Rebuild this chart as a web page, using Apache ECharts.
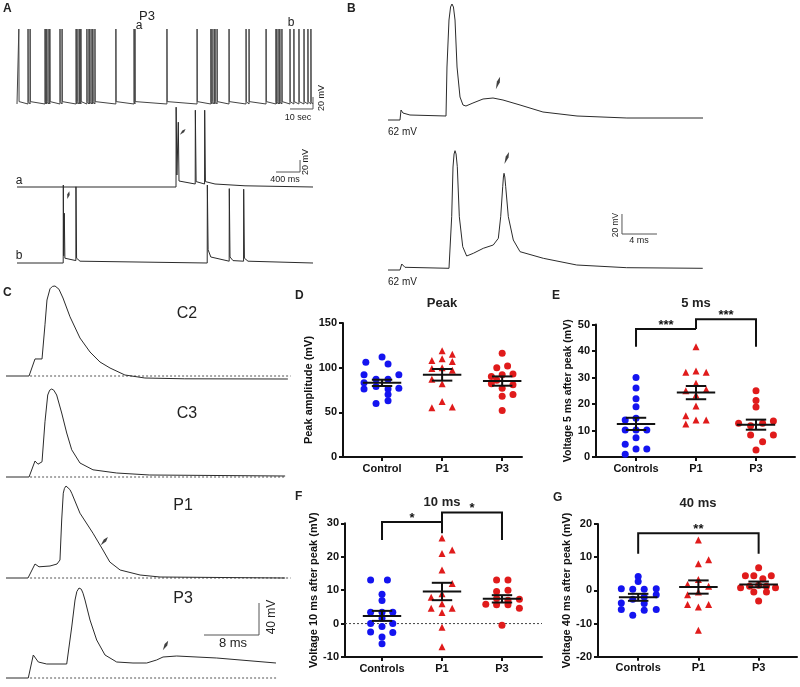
<!DOCTYPE html>
<html><head><meta charset="utf-8">
<script src="https://cdn.jsdelivr.net/npm/echarts@6/dist/echarts.min.js"></script>
<style>html,body{margin:0;padding:0;background:#fff}#c{width:800px;height:687px}</style>
</head><body><div id="c"></div>
<script>
// ---------------- DATA ----------------
// Panel A (top trace): spike times (s), spike peak (mV above rest)
const spikeTimesA = [0.8,4.8,5.7,12.2,12.6,13.0,13.9,14.3,18.7,19.6,25.7,26.1,27.0,27.4,27.8,30.4,31.3,31.7,32.6,33.0,33.9,43.0,50.9,51.3,65.2,78.3,84.3,84.8,85.7,86.1,87.0,92.2,99.6,100.9,108.3,112.6,113.0,113.9,114.3,115.2,118.7,120.4,122.6,124.8,126.5,127.8];
const spikePeakA = 125;
// Panel A expanded traces a, b : [ms, mV above rest]
const traceAa = [[0,0],[2650,0],[2652,133],[2665,20],[2688,108],[2700,10],[2720,8],[2970,5],[2972,128],[2985,9],[3000,8],[3126,5],[3128,128],[3140,9],[3160,8],[3300,5],[3800,2],[4933,0]];
const traceAb = [[0,0],[770,0],[772,130],[778,12],[788,83],[798,8],[830,5],[981,4],[983,127],[993,8],[1050,3],[3170,0],[3172,130],[3185,22],[3230,10],[3536,3],[3538,124],[3550,10],[3600,4],[3776,3],[3778,123],[3790,8],[3850,3],[4933,0]];
// Panel B traces [ms, mV above -62 mV]
const traceB1 = [[0,0],[1.37,0],[1.49,10],[1.71,7],[2.51,5],[6.63,4],[6.74,53],[6.97,100],[7.15,113],[7.31,116],[7.48,113],[7.66,100],[7.89,53],[8.23,23],[8.57,15],[8.91,14],[9.71,17],[10.86,21],[12.0,22],[13.14,20],[15.09,15],[17.71,8],[21.6,4],[27.3,2],[36,2]];
const traceB2 = [[0,0],[1.37,0],[1.57,6],[1.94,2.7],[6.97,1.7],[7.28,53.3],[7.43,103],[7.55,116],[7.66,119.3],[7.78,116],[7.92,103.3],[8.15,53.3],[8.54,23.3],[8.99,14],[9.75,16.7],[10.89,21.7],[12.03,25],[12.61,31.7],[12.88,53.3],[13.11,83.3],[13.19,93],[13.26,96.7],[13.35,93],[13.45,83.3],[13.75,53.3],[14.32,30],[15.09,18.3],[17.75,11.7],[21.57,5],[27.28,2.3],[35.97,1.7]];
// Panel C traces [ms, mV above rest]
const traceC2 = [[0,0],[3.35,0],[4.22,21.3],[5.24,21.3],[5.67,64],[5.96,95],[6.4,109],[6.75,112],[7.13,112.5],[7.4,111.5],[7.7,108.5],[8.29,97.5],[9.31,74],[10.76,47.5],[12.22,30],[13.67,17.5],[15.13,10],[17.3,1.25],[20.2,-2.5],[26,-3.5],[41,-3.75]];
const traceC3 = [[0,0],[3.35,0],[4.22,20],[4.65,16],[5.24,19],[5.67,69],[6.07,102.5],[6.35,108.5],[6.65,110],[6.95,108.5],[7.37,102.5],[8.1,80],[8.83,55],[9.56,34],[10.76,17.5],[12.65,9],[16.1,5],[20.9,2.5],[40.6,1.25]];
const traceP1 = [[0,0],[3.2,0],[4.22,17.5],[4.8,14],[6.4,15],[7.42,17.5],[7.85,22.5],[8.1,72.5],[8.33,106],[8.5,112],[8.73,115],[9.0,114],[9.3,110.5],[9.56,106],[10.76,81],[12.65,56],[14.1,35],[15.1,20],[16.6,10],[19.5,3.75],[22.4,1.25],[40.6,0]];
const traceP3 = [[0,0],[3.24,0],[3.97,28.75],[4.7,20],[5.92,17.5],[8.83,17.5],[9.56,63.75],[10.04,97.5],[10.3,108],[10.62,112.5],[10.95,111],[11.2,106],[11.49,97.5],[12.22,72.5],[13.19,47.5],[14.4,28.75],[16.1,20],[18.47,18.75],[20.47,18.75],[21.9,22.5],[22.84,26.25],[24.83,27.5],[30.65,25],[39.27,18.75]];

// Scatter panels
const catsD = ['Control','P1','P3'];
const catsEFG = ['Controls','P1','P3'];
// D: Peak amplitude (mV)
const peakControl  = [112,106,104,92,92,87,87,83,79,77,76,76,70,63,60];
const peakControlX = [0,-0.27,0.1,-0.3,0.28,-0.1,0.1,-0.3,-0.1,0.28,0.1,-0.3,0.1,0.1,-0.1];
const peakP1  = [119,115,110,108,107,100,99,97,87,82,62,56,55];
const peakP1X = [0,0.17,0,-0.17,0.17,0,-0.17,0.17,-0.17,0,0,0.17,-0.17];
const peakP3  = [116,102,100,93,92,90,86,82,81,77,70,68,52];
const peakP3X = [0,0.09,-0.09,0.18,0,-0.18,-0.09,-0.18,0.18,0,0.18,0,0];
const peakMean = [83,92,85], peakSem = [3.5,6.5,5.2];
// E: 5 ms after peak
const ms5Control  = [30,26,22,19,14.6,14,10.2,10.2,10.2,7.3,4.8,3,3,1];
const ms5ControlX = [0,0,0,0,0,-0.18,-0.18,0,0.18,0,-0.18,0,0.18,-0.18];
const ms5P1  = [41.6,32,32.5,32,27.8,25,25.5,23.4,19.2,15.6,12.5,14,14];
const ms5P1X = [0,-0.17,0,0.17,0,-0.17,0.17,0,0,-0.17,-0.17,0,0.17];
const ms5P3  = [25,21.3,18.9,12.7,11.8,12.7,13.6,8.3,8.3,5.8,2.6];
const ms5P3X = [0,0,0,-0.29,-0.09,0.11,0.29,-0.09,0.29,0.11,0];
const ms5Mean = [12.5,24.3,12.2], ms5Sem = [2.3,2.5,1.9];
const bracketsE = [[0,1,48.3,41.6,48.3,'***'],[1,2,52,48.3,41.6,'***']];
// F: 10 ms after peak
const ms10Control  = [13,13,8.8,6.9,3.4,3.4,3.4,1.6,0,0,-0.9,-2.5,-2.7,-4,-6];
const ms10ControlX = [-0.19,0.09,0,0,-0.19,0,0.18,0,-0.19,0.18,0,-0.19,0.18,0,0];
const ms10P1  = [25.6,22,21,16,12,8.9,7.9,5.9,4.6,4.6,3.3,-1.1,-6.9];
const ms10P1X = [0,0.17,0,0,0.17,0,-0.18,0,-0.18,0.17,0,0,0];
const ms10P3  = [13,13,10,9.6,7.5,7.3,7,5.8,5.6,5.6,4.6,-0.5];
const ms10P3X = [-0.09,0.1,0.1,-0.09,-0.09,0.29,0.1,-0.27,-0.09,0.1,0.29,0];
const ms10Mean = [2.3,9.6,7.4], ms10Sem = [1.5,2.6,1.1];
const bracketsF = [[0,1,30.4,25,30.4,'*'],[1,2,33.2,27,25,'*']];
// G: 40 ms after peak
const ms40Control  = [4.2,2.7,0.5,0.3,0.3,0.5,-1.3,-2,-2.7,-3.8,-4,-5.8,-5.8,-6,-7.5];
const ms40ControlX = [0,0,-0.28,-0.09,0.1,0.3,0.3,0.1,-0.09,-0.28,0.1,-0.28,0.3,0.1,-0.09];
const ms40P1  = [15.2,9.2,8,3.3,1.8,1.2,-0.5,-1.3,-4.3,-4.3,-5,-12];
const ms40P1X = [0,0.17,0,0,-0.18,0.17,0,-0.18,-0.18,0.17,0,0];
const ms40P3  = [6.8,4.4,4.4,4.4,3.5,0.8,1.2,1.5,1.2,0.8,-0.5,-0.5,-3.2];
const ms40P3X = [0,-0.22,-0.08,0.21,0.07,-0.3,-0.15,0,0.13,0.28,-0.08,0.13,0];
const ms40Mean = [-2.1,1.0,1.8], ms40Sem = [1.05,2.0,0.85];
const bracketsG = [[0,2,17.2,11,11,'**']];

// ---------------- BUILD ----------------
const FONT = "'Liberation Sans', Arial, Helvetica, sans-serif";
const INK = '#111';
const TRACE = '#2b2b2b';
const BLUE = '#1414f0', RED = '#e01b1b';
const grids = [], xAxes = [], yAxes = [], series = [];

function addGrid(rect, xa, ya) {
  const i = grids.length;
  grids.push({left: rect[0], top: rect[1], width: rect[2], height: rect[3], containLabel: false});
  xAxes.push(Object.assign({gridIndex: i}, xa));
  yAxes.push(Object.assign({gridIndex: i}, ya));
  return i;
}
const hid = (min, max) => ({type: 'value', min, max, show: false, splitLine: {show: false}});

function traceGrid(rect, xr, yr, data, color) {
  const g = addGrid(rect, hid(xr[0], xr[1]), hid(yr[0], yr[1]));
  series.push({type: 'line', xAxisIndex: g, yAxisIndex: g, data, showSymbol: false, symbol: 'none',
    silent: true, clip: false, lineStyle: {color: color || TRACE, width: 1}, z: 2});
  return g;
}
function dottedBase(g, x0, x1) {
  series.push({type: 'line', xAxisIndex: g, yAxisIndex: g, data: [[x0, 0], [x1, 0]], showSymbol: false,
    symbol: 'none', silent: true, lineStyle: {color: '#555', width: 1, type: [2, 2]}, z: 1});
}
function scaleBar(g, pts) {
  series.push({type: 'line', xAxisIndex: g, yAxisIndex: g, data: pts, showSymbol: false, symbol: 'none',
    silent: true, clip: false, lineStyle: {color: '#555', width: 1}, z: 2});
}
const ARROW = 'path://M1,0L2,5L1,12L0,5Z';
function arrow(g, pt, rot, size) {
  series.push({type: 'scatter', xAxisIndex: g, yAxisIndex: g, data: [pt], symbol: ARROW,
    symbolSize: size || [3, 11], symbolRotate: rot, itemStyle: {color: '#111'}, silent: true, z: 4, clip: false});
}

// Panel A top trace built from spike times
const traceAtop = [[0, 0]];
spikeTimesA.forEach(t => { traceAtop.push([t - 0.02, 0], [t, spikePeakA], [t + 0.1, 4]); });
traceAtop.push([128.7, 0]);
const gAtop = traceGrid([17, 26, 296, 84], [0, 128.7], [-10, 130], traceAtop, '#444');
scaleBar(gAtop, [[118.7, -8.3], [128.7, -8.3], [128.7, 11.7]]);
const gAa = traceGrid([17, 103, 296, 90], [0, 4933], [-10, 140], traceAa);
scaleBar(gAa, [[4317, 25], [4717, 25], [4717, 45]]);
arrow(gAa, [2762, 92], -45, [2.5, 8]);
const gAb = traceGrid([17, 179, 296, 90], [0, 4933], [-10, 140], traceAb);
arrow(gAb, [855, 113], -15, [2.5, 8]);

// Panel B
const gB1 = traceGrid([388, 0, 315, 130], [0, 36], [-10, 120], traceB1);
arrow(gB1, [12.57, 37], -19, [3, 13]);
const gB2 = traceGrid([388, 145, 315, 135], [0, 36], [-10, 125], traceB2);
arrow(gB2, [13.57, 112], -21, [3, 13]);
scaleBar(gB2, [[26.74, 56], [26.74, 36], [30.74, 36]]);

// Panel C
const cW = 288.75;
const gC2 = traceGrid([6, 280, cW, 104], [0, 42], [-10, 120], traceC2);
dottedBase(gC2, 3.5, 41.4);
const gC3 = traceGrid([6, 381, cW, 104], [0, 42], [-10, 120], traceC3);
dottedBase(gC3, 3.5, 40.6);
const gP1 = traceGrid([6, 482, cW, 104], [0, 42], [-10, 120], traceP1);
dottedBase(gP1, 3.5, 41.4);
arrow(gP1, [14.3, 46], -41, [3, 11]);
const gP3 = traceGrid([6, 582, cW, 104], [0, 42], [-10, 120], traceP3);
dottedBase(gP3, 3.5, 39.3);
arrow(gP3, [23.2, 40.6], -29, [3, 11]);
scaleBar(gP3, [[28.8, 53.75], [36.8, 53.75], [36.8, 93.75]]);

// Scatter panels
function scatterPanel(rect, xr, cats, yr, yint, yname, nameGap, nameSize, groups, means, sems, brackets, zeroLine) {
  const xa = {type: 'value', min: xr[0], max: xr[1],
    axisLine: {show: true, onZero: false, lineStyle: {color: INK, width: 2}},
    axisTick: {show: true, customValues: [0, 1, 2], length: 4, lineStyle: {color: INK, width: 2}},
    axisLabel: {show: true, customValues: [0, 1, 2], formatter: v => cats[Math.round(v)],
      fontWeight: 'bold', fontSize: 11, color: INK, fontFamily: FONT, margin: 6},
    splitLine: {show: false}};
  const ya = {type: 'value', min: yr[0], max: yr[1], interval: yint,
    name: yname, nameLocation: 'middle', nameGap, nameRotate: 90,
    nameTextStyle: {fontWeight: 'bold', fontSize: nameSize, color: INK, fontFamily: FONT},
    axisLine: {show: true, onZero: false, lineStyle: {color: INK, width: 2}},
    axisTick: {show: true, length: 4, lineStyle: {color: INK, width: 2}},
    axisLabel: {fontWeight: 'bold', fontSize: 11, color: INK, fontFamily: FONT, margin: 6},
    splitLine: {show: false}};
  const g = addGrid(rect, xa, ya);
  if (zeroLine) {
    series.push({type: 'line', xAxisIndex: g, yAxisIndex: g, data: [[xr[0], 0], [xr[1], 0]], showSymbol: false,
      symbol: 'none', silent: true, lineStyle: {color: '#444', width: 1, type: [2, 2]}, z: 1});
  }
  groups.forEach((gr, ci) => {
    series.push({type: 'scatter', xAxisIndex: g, yAxisIndex: g, symbol: gr.sym, symbolSize: gr.size,
      itemStyle: {color: gr.color, opacity: 1}, silent: true, z: 3, clip: false,
      data: gr.vals.map((v, i) => [ci + gr.jit[i], v])});
  });
  series.push({type: 'custom', xAxisIndex: g, yAxisIndex: g, z: 5, silent: true, clip: false,
    data: means.map((m, i) => [i, m, sems[i]]),
    renderItem(params, api) {
      const x = api.value(0), m = api.value(1), s = api.value(2);
      const c = (dx, v) => api.coord([x + dx, v]);
      const L = (a, b) => ({type: 'line', shape: {x1: a[0], y1: a[1], x2: b[0], y2: b[1]}, style: {stroke: INK, lineWidth: 2}});
      return {type: 'group', children: [
        L(c(-0.32, m), c(0.32, m)), L(c(0, m - s), c(0, m + s)),
        L(c(-0.17, m + s), c(0.17, m + s)), L(c(-0.17, m - s), c(0.17, m - s))]};
    }});
  if (brackets && brackets.length) {
    series.push({type: 'custom', xAxisIndex: g, yAxisIndex: g, z: 5, silent: true, clip: false,
      data: brackets.map(b => b.slice(0, 5)),
      renderItem(params, api) {
        const b = brackets[params.dataIndex];
        const p1 = api.coord([b[0], b[2]]), p2 = api.coord([b[1], b[2]]);
        const l1 = api.coord([b[0], b[3]]), r1 = api.coord([b[1], b[4]]);
        return {type: 'group', children: [
          {type: 'polyline', shape: {points: [l1, p1, p2, r1]}, style: {stroke: INK, lineWidth: 2, fill: null}},
          {type: 'text', x: (p1[0] + p2[0]) / 2, y: p1[1] - 4,
            style: {text: b[5], fill: INK, font: 'bold 13px ' + FONT, align: 'center', verticalAlign: 'middle'}}]};
      }});
  }
  return g;
}
const grp = (vals, jit, sym, color, size) => ({vals, jit, sym, color, size});

scatterPanel([343, 323, 179, 134], [-0.65, 2.33], catsD, [0, 150], 50, 'Peak amplitude (mV)', 28, 11,
  [grp(peakControl, peakControlX, 'circle', BLUE, 7), grp(peakP1, peakP1X, 'triangle', RED, 7), grp(peakP3, peakP3X, 'circle', RED, 7)],
  peakMean, peakSem, null, false);
scatterPanel([596, 324.5, 199, 132.5], [-0.667, 2.65], catsEFG, [0, 50], 10, 'Voltage 5 ms after peak (mV)', 22, 10.5,
  [grp(ms5Control, ms5ControlX, 'circle', BLUE, 7), grp(ms5P1, ms5P1X, 'triangle', RED, 7), grp(ms5P3, ms5P3X, 'circle', RED, 7)],
  ms5Mean, ms5Sem, bracketsE, false);
scatterPanel([345, 523.3, 197, 133.7], [-0.617, 2.667], catsEFG, [-10, 30], 10, 'Voltage 10 ms after peak (mV)', 26, 11,
  [grp(ms10Control, ms10ControlX, 'circle', BLUE, 7), grp(ms10P1, ms10P1X, 'triangle', RED, 7), grp(ms10P3, ms10P3X, 'circle', RED, 7)],
  ms10Mean, ms10Sem, bracketsF, true);
scatterPanel([598, 524, 199, 132.7], [-0.667, 2.637], catsEFG, [-20, 20], 10, 'Voltage 40 ms after peak (mV)', 23, 11,
  [grp(ms40Control, ms40ControlX, 'circle', BLUE, 7), grp(ms40P1, ms40P1X, 'triangle', RED, 7), grp(ms40P3, ms40P3X, 'circle', RED, 7)],
  ms40Mean, ms40Sem, bracketsG, false);

// ---------------- TEXT ----------------
const T = (x, y, text, size, opt) => Object.assign({type: 'text', x, y, silent: true,
  style: {text, fill: '#222', font: (opt && opt.bold ? 'bold ' : '') + size + 'px ' + FONT,
    align: (opt && opt.align) || 'center', verticalAlign: (opt && opt.va) || 'middle'}},
  opt && opt.rot ? {rotation: opt.rot} : {});
const L = (x, y, t) => T(x, y, t, 12, {bold: true, align: 'left', va: 'top'});
const R90 = Math.PI / 2;
const texts = [
  L(3, 3, 'A'), L(347, 3, 'B'), L(3, 287, 'C'), L(295, 290, 'D'), L(552, 290, 'E'), L(295, 491, 'F'), L(553, 492, 'G'),
  T(147, 16, 'P3', 13), T(139, 26, 'a', 12), T(291, 23, 'b', 12),
  T(322, 98, '20 mV', 9, {rot: R90}), T(298, 118, '10 sec', 9),
  T(19, 181, 'a', 12), T(19, 256, 'b', 12),
  T(306, 162, '20 mV', 9, {rot: R90}), T(285, 180, '400 ms', 9),
  T(388, 132, '62 mV', 10, {align: 'left'}), T(388, 282, '62 mV', 10, {align: 'left'}),
  T(616, 225, '20 mV', 8.5, {rot: R90}), T(639, 241, '4 ms', 9),
  T(187, 314, 'C2', 16), T(187, 414, 'C3', 16), T(183, 506, 'P1', 16), T(183, 599, 'P3', 16),
  T(272, 617, '40 mV', 12, {rot: R90}), T(233, 643, '8 ms', 13),
  T(442, 303, 'Peak', 13, {bold: true}), T(696, 303, '5 ms', 13, {bold: true}),
  T(442, 502, '10 ms', 13, {bold: true}), T(698, 503, '40 ms', 13, {bold: true})
];

const chart = echarts.init(document.getElementById('c'), null, {renderer: 'canvas', width: 800, height: 687});
chart.setOption({
  animation: false,
  backgroundColor: '#fff',
  grid: grids, xAxis: xAxes, yAxis: yAxes, series,
  graphic: texts
});
</script></body></html>
